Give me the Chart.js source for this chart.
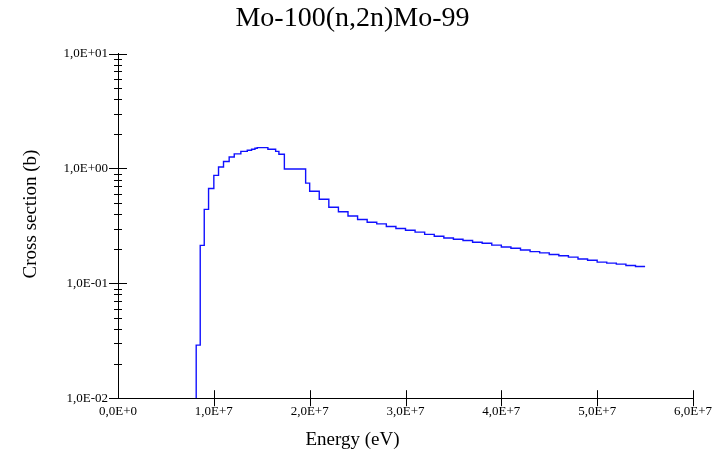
<!DOCTYPE html>
<html lang="en">

<head>
    <meta charset="UTF-8">
    <title>Mo-100(n,2n)Mo-99</title>
    <style>
        body { margin: 0; background: #fff; }
        #box { width: 723px; height: 455px; }
    </style>
</head>

<body>
    <div id="box">
        <canvas id="myChart"></canvas>
    </div>

    <script src="https://cdn.jsdelivr.net/npm/chart.js"></script>
    <script>
        // bin edges in MeV, one more than the cross sections
        const binEdges = [8.16, 8.58, 9.0, 9.45, 10.0, 10.49, 11.01, 11.6, 12.13, 12.82, 13.49, 13.94, 14.29, 14.53,
            15.64, 16.45, 16.79, 17.36, 19.58,
            20, 21, 22, 23, 24, 25, 26, 27, 28, 29, 30, 31, 32, 33, 34, 35, 36, 37, 38, 39,
            40, 41, 42, 43, 44, 45, 46, 47, 48, 49, 50, 51, 52, 53, 54, 55];
        // cross section (b) of each bin
        const crossSection = [0.029, 0.214, 0.44, 0.67, 0.87, 1.03, 1.15, 1.26, 1.34, 1.41, 1.44, 1.47, 1.50, 1.52,
            1.47, 1.41, 1.33, 0.99, 0.745,
            0.634, 0.54, 0.46, 0.42, 0.386, 0.359, 0.34, 0.329, 0.312, 0.30, 0.29, 0.279, 0.267, 0.257, 0.248,
            0.242, 0.236, 0.228, 0.223, 0.215, 0.207, 0.202, 0.195, 0.189, 0.184, 0.178, 0.174, 0.169, 0.163,
            0.159, 0.153, 0.150, 0.147, 0.143, 0.140];

        const yTickValues = [0.01, 0.02, 0.03, 0.04, 0.05, 0.06, 0.07, 0.08, 0.09,
            0.1, 0.2, 0.3, 0.4, 0.5, 0.6, 0.7, 0.8, 0.9,
            1, 2, 3, 4, 5, 6, 7, 8, 9, 10];
        const yMajor = [0.01, 0.1, 1, 10];
        const xMin = 0, xMax = 6e7, xStep = 1e7;

        // histogram points: start at the bottom of the axis, then one point per bin edge
        let points = [{ x: binEdges[0] * 1e6, y: yTickValues[0] }];
        for (let i = 0; i < crossSection.length; i++) {
            points.push({ x: binEdges[i] * 1e6, y: crossSection[i] });
        }
        points.push({ x: binEdges[binEdges.length - 1] * 1e6, y: crossSection[crossSection.length - 1] });

        // 1,0E+01 style labels
        function f_fmt(v, digits) {
            if (v == 0) return '0,0E+' + '0'.repeat(digits);
            let e = Math.floor(Math.log10(v) + 1e-9);
            let m = v / Math.pow(10, e);
            let es = String(Math.abs(e)).padStart(digits, '0');
            return m.toFixed(1).replace('.', ',') + 'E' + (e < 0 ? '-' : '+') + es;
        }

        const serif = "'Liberation Serif', 'Times New Roman', serif";

        // tick marks crossing both axes
        const crossTicks = {
            id: 'crossTicks',
            afterDraw(chart) {
                const ctx = chart.ctx;
                const area = chart.chartArea;
                const xs = chart.scales.x, ys = chart.scales.y;
                ctx.save();
                ctx.strokeStyle = '#000';
                ctx.lineWidth = 1;
                ctx.beginPath();
                ys.ticks.forEach(t => {
                    let py = Math.round(ys.getPixelForValue(t.value)) + 0.5;
                    let len = yMajor.includes(t.value) ? 9 : 4;
                    ctx.moveTo(area.left - len, py);
                    ctx.lineTo(area.left + len, py);
                });
                xs.ticks.forEach(t => {
                    if (t.value == xMin) return;
                    let px = Math.round(xs.getPixelForValue(t.value)) + 0.5;
                    ctx.moveTo(px, area.bottom - 8);
                    ctx.lineTo(px, area.bottom + 8);
                });
                ctx.stroke();
                ctx.restore();
            }
        };

        const ctx = document.getElementById('myChart');

        let v_chart = new Chart(ctx, {
            type: 'line',
            data: {
                datasets: [{
                    label: 'Mo-100(n,2n)Mo-99',
                    data: points,
                    borderColor: '#1010ff',
                    borderWidth: 1.4,
                    pointRadius: 0,
                    stepped: 'before',
                    fill: false
                }]
            },
            plugins: [crossTicks],
            options: {
                responsive: true,
                maintainAspectRatio: false,
                animation: false,
                layout: { padding: { left: 0, right: 18, top: 0, bottom: 0 } },
                plugins: {
                    legend: { display: false },
                    tooltip: { enabled: false },
                    title: {
                        display: true,
                        text: 'Mo-100(n,2n)Mo-99',
                        color: '#000',
                        font: { family: serif, size: 28, weight: 'normal' },
                        padding: { top: 2, bottom: 18 }
                    },
                    subtitle: {
                        display: true,
                        position: 'bottom',
                        text: 'Energy (eV)',
                        color: '#000',
                        font: { family: serif, size: 19, weight: 'normal' },
                        padding: { top: 0, bottom: 4 }
                    }
                },
                scales: {
                    x: {
                        type: 'linear',
                        min: xMin,
                        max: xMax,
                        grid: { display: false, drawTicks: false },
                        border: { display: true, color: '#000', width: 1 },
                        ticks: {
                            stepSize: xStep,
                            padding: 6,
                            maxRotation: 0,
                            color: '#000',
                            font: { family: serif, size: 13 },
                            callback: (v) => f_fmt(v, 1)
                        },
                        // keep the plot's right edge 30px in from the canvas
                        afterFit: (s) => { s.height = 30; s.paddingRight = 30; }
                    },
                    y: {
                        type: 'logarithmic',
                        min: yTickValues[0],
                        max: yTickValues[yTickValues.length - 1],
                        grid: { display: false, drawTicks: false },
                        border: { display: true, color: '#000', width: 1 },
                        afterBuildTicks: (s) => { s.ticks = yTickValues.map(v => ({ value: v })); },
                        ticks: {
                            padding: 10,
                            autoSkip: false,
                            color: '#000',
                            font: { family: serif, size: 13 },
                            callback: (v) => yMajor.includes(v) ? f_fmt(v, 2) : ''
                        },
                        title: {
                            display: true,
                            text: '     Cross section (b)',
                            color: '#000',
                            font: { family: serif, size: 19 },
                            padding: { top: 20, bottom: 0 }
                        },
                        afterFit: (s) => { s.width = 118; }
                    }
                }
            }
        });
    </script>

</body>

</html>
